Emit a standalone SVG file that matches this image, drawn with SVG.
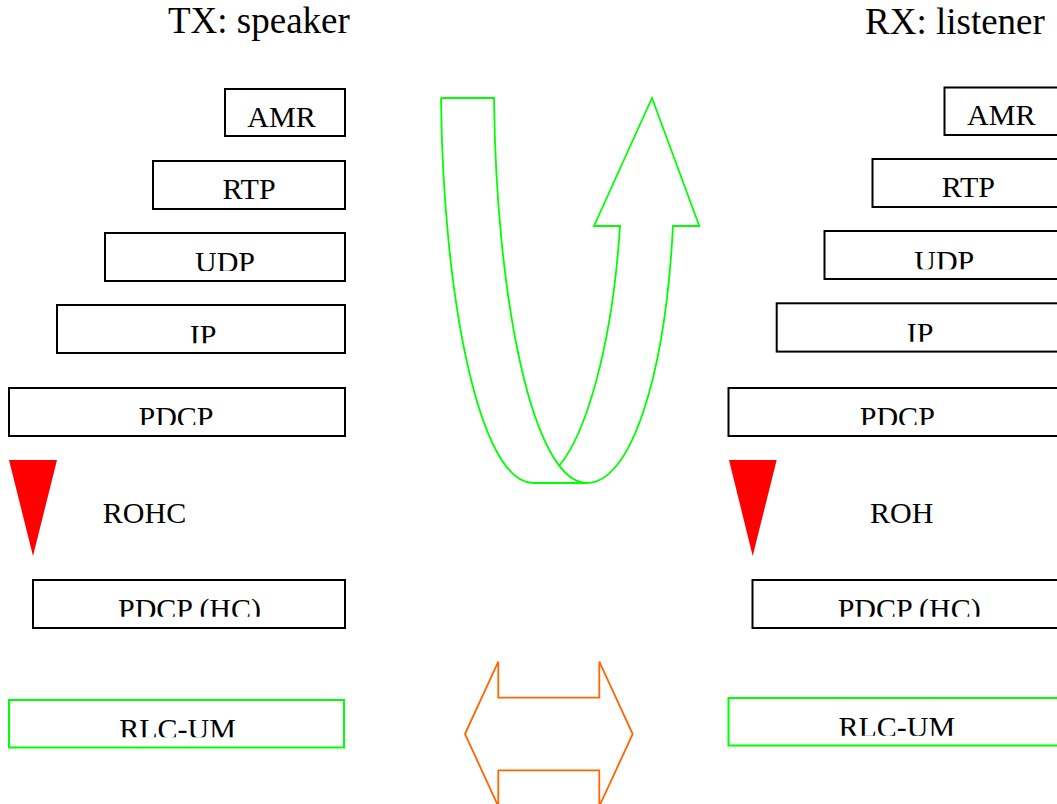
<svg xmlns="http://www.w3.org/2000/svg" width="1057" height="804" viewBox="0 0 1057 804">
<style>
text{font-family:"Liberation Serif","Times New Roman",serif;fill:#000;}
.lbl{font-size:30px;text-anchor:middle;}
.ttl{font-size:37px;}
.box{fill:#fff;stroke:#000;stroke-width:2;}
.gbox{fill:#fff;stroke:#00ff00;stroke-width:2;}
.tri{fill:#ff0000;stroke:none;}
.garrow{fill:none;stroke:#00ff00;stroke-width:1.8;stroke-linejoin:miter;}
.oarrow{fill:#fff;stroke:#ff6600;stroke-width:1.8;}
</style>
<defs>
<clipPath id="cUdpL" clipPathUnits="userSpaceOnUse"><rect x="0" y="233" width="1057" height="38"/></clipPath>
<clipPath id="cIpL" clipPathUnits="userSpaceOnUse"><rect x="0" y="305" width="1057" height="38.3"/></clipPath>
<clipPath id="cPdcpL" clipPathUnits="userSpaceOnUse"><rect x="0" y="388" width="1057" height="37"/></clipPath>
<clipPath id="cHcL" clipPathUnits="userSpaceOnUse"><rect x="0" y="580" width="1057" height="36.7"/></clipPath>
<clipPath id="cRlcL" clipPathUnits="userSpaceOnUse"><rect x="0" y="700" width="1057" height="37.3"/></clipPath>
<clipPath id="cUdpR" clipPathUnits="userSpaceOnUse"><rect x="0" y="231" width="1057" height="38.3"/></clipPath>
<clipPath id="cIpR" clipPathUnits="userSpaceOnUse"><rect x="0" y="303" width="1057" height="38.7"/></clipPath>
<clipPath id="cPdcpR" clipPathUnits="userSpaceOnUse"><rect x="0" y="388" width="1057" height="37"/></clipPath>
<clipPath id="cHcR" clipPathUnits="userSpaceOnUse"><rect x="0" y="580" width="1057" height="36.7"/></clipPath>
<clipPath id="cRlcR" clipPathUnits="userSpaceOnUse"><rect x="0" y="698" width="1057" height="37.7"/></clipPath>
</defs>
<rect x="0" y="0" width="1057" height="804" fill="#fff"/>

<g id="title-tx"><text class="ttl" x="168" y="33">TX: speaker</text></g>
<g id="title-rx"><text class="ttl" x="865" y="34">RX: listener</text></g>

<!-- TX stack -->
<g id="tx-amr"><rect class="box" x="225" y="89" width="120" height="47"/><text class="lbl" x="281.5" y="127">AMR</text></g>
<g id="tx-rtp"><rect class="box" x="153" y="161" width="192" height="48"/><text class="lbl" x="249" y="199">RTP</text></g>
<g id="tx-udp"><rect class="box" x="105" y="233" width="240" height="48"/><text class="lbl" x="225" y="272" clip-path="url(#cUdpL)">UDP</text></g>
<g id="tx-ip"><rect class="box" x="57" y="305" width="288" height="48"/><text class="lbl" x="203" y="344.5" clip-path="url(#cIpL)">IP</text></g>
<g id="tx-pdcp"><rect class="box" x="9" y="388" width="336" height="48"/><text class="lbl" x="176" y="427" clip-path="url(#cPdcpL)">PDCP</text></g>
<g id="tx-rohc"><polygon class="tri" points="9,460 57,460 33,556"/><text class="lbl" x="144.5" y="523">ROHC</text></g>
<g id="tx-pdcphc"><rect class="box" x="33" y="580" width="312" height="48"/><text class="lbl" x="189.5" y="618.5" clip-path="url(#cHcL)">PDCP (HC)</text></g>
<g id="tx-rlc"><rect class="gbox" x="9" y="700" width="335" height="47.5"/><text class="lbl" x="177.5" y="738.5" clip-path="url(#cRlcL)">RLC-UM</text></g>

<!-- RX stack -->
<g id="rx-amr"><rect class="box" x="944.5" y="87.5" width="130" height="47.5"/><text class="lbl" x="1001.3" y="125">AMR</text></g>
<g id="rx-rtp"><rect class="box" x="872.5" y="159" width="200" height="48"/><text class="lbl" x="968.3" y="197">RTP</text></g>
<g id="rx-udp"><rect class="box" x="824.5" y="231" width="250" height="48"/><text class="lbl" x="944.3" y="270.5" clip-path="url(#cUdpR)">UDP</text></g>
<g id="rx-ip"><rect class="box" x="776.7" y="303.3" width="300" height="48.3"/><text class="lbl" x="920" y="342.7" clip-path="url(#cIpR)">IP</text></g>
<g id="rx-pdcp"><rect class="box" x="728.5" y="388" width="340" height="48"/><text class="lbl" x="897.3" y="427" clip-path="url(#cPdcpR)">PDCP</text></g>
<g id="rx-roh"><polygon class="tri" points="729,460 776.7,460 752.7,556"/><text class="lbl" x="901.7" y="523">ROH</text></g>
<g id="rx-pdcphc"><rect class="box" x="752.5" y="580" width="320" height="48"/><text class="lbl" x="909.2" y="618.5" clip-path="url(#cHcR)">PDCP (HC)</text></g>
<g id="rx-rlc"><rect class="gbox" x="728.5" y="698" width="340" height="47.5"/><text class="lbl" x="896.8" y="736.8" clip-path="url(#cRlcR)">RLC-UM</text></g>

<g id="connectors">
<path class="garrow" d="M441,98 L494,98 C496,300 533,483 587,483 C630,483 665,380 673,226 L699.3,226 L652,98 L594,226 L620,226 C612,350 585,435 559,466 M441,98 C443,300 480,483 533,483 L587,483"/>
<polygon class="oarrow" points="465,734 498.3,661.7 498.3,697.7 599.3,697.7 599.3,661.7 632.7,734 599.3,806.3 599.3,770.3 498.3,770.3 498.3,806.3"/>
</g>
</svg>
